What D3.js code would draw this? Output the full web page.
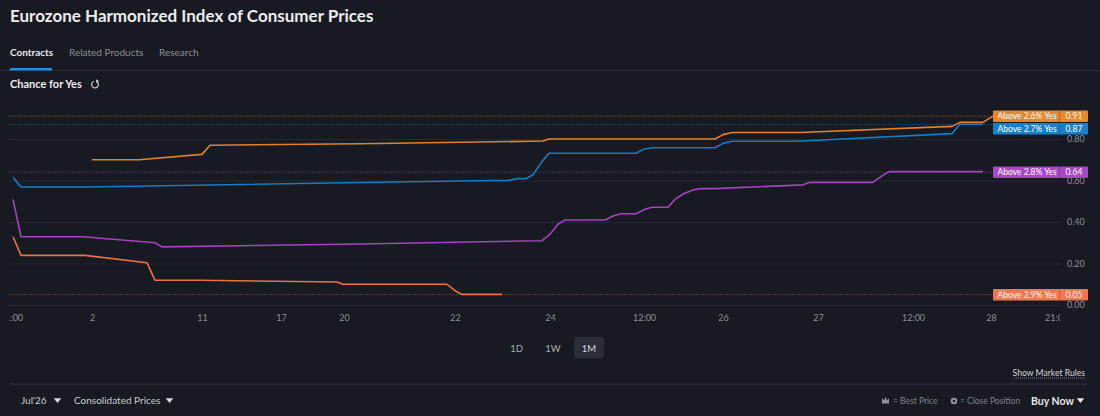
<!DOCTYPE html>
<html>
<head>
<meta charset="utf-8">
<script src="https://cdn.jsdelivr.net/npm/d3@7"></script>
<style>
  body { margin: 0; background: #171a21; }
  svg { display: block; font-family: Lato, "Open Sans", sans-serif; }
</style>
</head>
<body>
<svg id="chart" width="1100" height="416"></svg>
<script>
// contracts and their last price
var contracts = ["Above 2.6% Yes", "Above 2.7% Yes", "Above 2.8% Yes", "Above 2.9% Yes"];
var lastPrices = [0.91, 0.87, 0.64, 0.05];

// price history, time is position on the compressed timeline (0..105)
var time26 = [8.2, 12.9, 19.2, 20, 35, 53.3, 53.9, 70.5, 71.3, 72.2, 79, 94.2, 95, 97.3, 98.3];
var price26 = [0.70, 0.70, 0.726, 0.77, 0.777, 0.79, 0.80, 0.80, 0.821, 0.831, 0.831, 0.861, 0.88, 0.88, 0.91];

var time27 = [0.3, 1.1, 7.7, 35, 50, 50.7, 51.6, 52.3, 53.2, 53.9, 62.6, 63.3, 64.2, 70.5, 71.3, 72.2, 78.7, 94.2, 95, 97.3];
var price27 = [0.615, 0.569, 0.569, 0.59, 0.601, 0.609, 0.609, 0.628, 0.691, 0.731, 0.731, 0.749, 0.758, 0.758, 0.779, 0.789, 0.789, 0.826, 0.871, 0.871];

var time28 = [0.3, 1.1, 7.3, 14.5, 15.2, 35, 53.2, 54, 54.8, 55.5, 59.5, 60.3, 61.1, 62.6, 63.5, 64.2, 65.8, 66.5, 67.3, 68.3, 69, 70.5, 79.3, 80, 86.3, 87.2, 87.9, 97.3];
var price28 = [0.509, 0.329, 0.329, 0.30, 0.28, 0.294, 0.31, 0.341, 0.389, 0.41, 0.41, 0.429, 0.44, 0.44, 0.461, 0.471, 0.471, 0.509, 0.535, 0.554, 0.561, 0.561, 0.579, 0.591, 0.591, 0.622, 0.643, 0.643];

var time29 = [0.3, 1.1, 7.5, 13.7, 14.5, 19, 32.7, 33.3, 43.7, 44.5, 45.2, 49.2];
var price29 = [0.329, 0.239, 0.239, 0.204, 0.119, 0.119, 0.111, 0.10, 0.10, 0.069, 0.051, 0.051];

// axis ticks
var xTickTimes = [0.1, 8.2, 19.2, 27.1, 33.4, 44.5, 54, 63.4, 71.3, 80.8, 90.3, 98.1, 104.6];
var xTickLabels = ["21:00", "2", "11", "17", "20", "22", "24", "12:00", "26", "27", "12:00", "28", "21:00"];
var yTickValues = [0, 0.2, 0.4, 0.6, 0.8];

var tabLabels = ["Contracts", "Related Products", "Research"];
var rangeLabels = ["1D", "1W", "1M"];

var lineColors = ["#e0822b", "#157bc4", "#a443c2", "#ea7146"];
var tagColors = ["#e8872c", "#1a80cc", "#a847c8", "#f07850"];

var series = [
  { name: contracts[0], time: time26, price: price26, last: lastPrices[0] },
  { name: contracts[1], time: time27, price: price27, last: lastPrices[1] },
  { name: contracts[2], time: time28, price: price28, last: lastPrices[2] },
  { name: contracts[3], time: time29, price: price29, last: lastPrices[3] }
];

var svg = d3.select("#chart");

// ---- header ----
svg.append("text")
  .attr("x", 10).attr("y", 22)
  .attr("fill", "#ececee")
  .attr("font-size", "17px")
  .attr("font-weight", 700)
  .text("Eurozone Harmonized Index of Consumer Prices");

var tabX = [10, 69, 159];
svg.selectAll("text.tab")
  .data(tabLabels)
  .enter()
  .append("text")
    .attr("class", "tab")
    .attr("x", function(d, i) { return tabX[i]; })
    .attr("y", 56)
    .attr("font-size", "10px")
    .attr("font-weight", function(d, i) { return i === 0 ? 700 : 400; })
    .attr("fill", function(d, i) { return i === 0 ? "#e6e7ea" : "#8b8f98"; })
    .text(function(d) { return d; });

svg.append("rect")
  .attr("x", 0).attr("y", 70).attr("width", 1100).attr("height", 1)
  .attr("fill", "#2a2e37");
svg.append("rect")
  .attr("x", 10).attr("y", 68).attr("width", 42).attr("height", 2.5)
  .attr("fill", "#2b8ad8");

svg.append("text")
  .attr("x", 10).attr("y", 88)
  .attr("fill", "#ececee")
  .attr("font-size", "11px")
  .attr("font-weight", 700)
  .text("Chance for Yes");

//refresh icon
var refresh = svg.append("g").attr("transform", "translate(95, 84.5)");
refresh.append("path")
  .attr("d", d3.arc()({ innerRadius: 3.4, outerRadius: 3.4, startAngle: 0.6, endAngle: 2 * Math.PI - 0.3 }))
  .attr("fill", "none").attr("stroke", "#c9cbd0").attr("stroke-width", 1.2);
refresh.append("path")
  .attr("d", "M1,-5.2 L4,-3.4 L1.2,-1.6 Z")
  .attr("fill", "#c9cbd0");

// ---- chart ----
var plotLeft = 9, plotRight = 1060;

var xScale = d3.scaleLinear().domain([0, 105]).range([10, 1060]);
var yScale = d3.scaleLinear().domain([0, 1]).range([305, 97.5]);

svg.append("defs").append("clipPath")
  .attr("id", "plot-clip")
  .append("rect")
    .attr("x", plotLeft).attr("y", 90).attr("width", plotRight - plotLeft).attr("height", 240);

var yAxis = d3.axisRight(yScale)
  .tickValues(yTickValues)
  .tickFormat(d3.format(".2f"))
  .tickSize(-(plotRight - plotLeft))
  .tickPadding(7);

var yAxisGroup = svg.append("g")
  .attr("transform", "translate(" + plotRight + ",0)")
  .call(yAxis);
yAxisGroup.select(".domain").remove();
yAxisGroup.selectAll("line").attr("stroke", "#242833");
yAxisGroup.selectAll("text")
  .attr("fill", "#8c909a")
  .attr("font-size", "9px")
  .attr("font-family", "Lato, sans-serif");

var xAxis = d3.axisBottom(xScale)
  .tickValues(xTickTimes)
  .tickFormat(function(d, i) { return xTickLabels[i]; })
  .tickSize(0)
  .tickPadding(10);

var xAxisGroup = svg.append("g")
  .attr("clip-path", "url(#plot-clip)")
  .append("g")
    .attr("transform", "translate(0,305)")
    .call(xAxis);
xAxisGroup.select(".domain").remove();
xAxisGroup.selectAll("text")
  .attr("fill", "#8c909a")
  .attr("font-size", "9px")
  .attr("font-family", "Lato, sans-serif");

// dotted lines at the last price
svg.append("g")
  .selectAll("line")
  .data(series)
  .enter()
  .append("line")
    .attr("x1", plotLeft)
    .attr("x2", 993)
    .attr("y1", function(d) { return yScale(d.last); })
    .attr("y2", function(d) { return yScale(d.last); })
    .attr("stroke", function(d, i) { return lineColors[i]; })
    .attr("stroke-width", 1)
    .attr("stroke-dasharray", "1.5,1.5")
    .attr("opacity", 0.55);

var lineGen = d3.line()
  .x(function(p) { return xScale(p[0]); })
  .y(function(p) { return yScale(p[1]); });

svg.append("g")
  .selectAll("path")
  .data(series)
  .enter()
  .append("path")
    .attr("d", function(d) { return lineGen(d3.zip(d.time, d.price)); })
    .attr("fill", "none")
    .attr("stroke", function(d, i) { return lineColors[i]; })
    .attr("stroke-width", 1.6)
    .attr("stroke-linejoin", "round");

// price tags on the right, pushed apart when they overlap
var tagHeight = 11.5;
var tagItems = series.map(function(d, i) {
  return { name: d.name, last: d.last, color: tagColors[i], y: yScale(d.last) - tagHeight / 2 };
});
var sortedTags = tagItems.slice().sort(function(a, b) { return a.y - b.y; });
for (var i = 1; i < sortedTags.length; i++) {
  var minY = sortedTags[i - 1].y + tagHeight + 1;
  if (sortedTags[i].y < minY) {
    sortedTags[i].y = minY;
  }
}

var tags = svg.append("g")
  .selectAll("g")
  .data(tagItems)
  .enter()
  .append("g")
    .attr("transform", function(d) { return "translate(993," + d.y + ")"; });

tags.append("rect")
  .attr("width", 95).attr("height", tagHeight).attr("rx", 1)
  .attr("fill", function(d) { return d.color; });
tags.append("rect")
  .attr("x", 66).attr("width", 0.8).attr("height", tagHeight)
  .attr("fill", "#000").attr("opacity", 0.25);
tags.append("text")
  .attr("x", 4.5).attr("y", 8.7)
  .attr("fill", "#fff")
  .attr("font-size", "8.5px")
  .text(function(d) { return d.name; });
tags.append("text")
  .attr("x", 81).attr("y", 8.7)
  .attr("text-anchor", "middle")
  .attr("fill", "#fff")
  .attr("font-size", "8.5px")
  .text(function(d) { return d3.format(".2f")(d.last); });

// ---- range buttons ----
var rangeX = [516.5, 553, 589];
svg.append("rect")
  .attr("x", 574).attr("y", 337).attr("width", 30).attr("height", 21.5).attr("rx", 4)
  .attr("fill", "#2a2e37");
svg.selectAll("text.range")
  .data(rangeLabels)
  .enter()
  .append("text")
    .attr("class", "range")
    .attr("x", function(d, i) { return rangeX[i]; })
    .attr("y", 351.5)
    .attr("text-anchor", "middle")
    .attr("font-size", "9.5px")
    .attr("fill", function(d, i) { return i === 2 ? "#d4d7dd" : "#a9aeb8"; })
    .text(function(d) { return d; });

// ---- footer ----
svg.append("text")
  .attr("x", 1085).attr("y", 375.5)
  .attr("text-anchor", "end")
  .attr("font-size", "8.6px")
  .attr("fill", "#d4d6db")
  .text("Show Market Rules");
svg.append("line")
  .attr("x1", 1014).attr("x2", 1085).attr("y1", 378).attr("y2", 378)
  .attr("stroke", "#9aa0aa").attr("stroke-width", 0.8).attr("stroke-dasharray", "1,1");

svg.append("rect")
  .attr("x", 10).attr("y", 383.5).attr("width", 1077).attr("height", 1.2)
  .attr("fill", "#2e323b");

var triangle = function(cx, cy, color) {
  svg.append("path")
    .attr("d", "M" + (cx - 3.8) + "," + (cy - 2.2) + " L" + (cx + 3.8) + "," + (cy - 2.2) + " L" + cx + "," + (cy + 2.4) + " Z")
    .attr("fill", color);
};

svg.append("text")
  .attr("x", 21).attr("y", 404)
  .attr("font-size", "10px").attr("fill", "#c9ccd2")
  .text("Jul'26");
triangle(57.5, 400.5, "#d9dbe0");
svg.append("text")
  .attr("x", 74).attr("y", 404)
  .attr("font-size", "10px").attr("fill", "#c9ccd2")
  .text("Consolidated Prices");
triangle(169.5, 400.5, "#d9dbe0");

//crown icon
svg.append("path")
  .attr("d", "M882,403.5 L882,398 L884,400.5 L885.5,397 L887,400.5 L889,398 L889,403.5 Z")
  .attr("fill", "#8f949e");
svg.append("text")
  .attr("x", 893).attr("y", 404)
  .attr("font-size", "8.5px").attr("fill", "#7f848e")
  .text("= Best Price");
//close position icon
svg.append("circle")
  .attr("cx", 954).attr("cy", 401).attr("r", 3.3)
  .attr("fill", "#8f949e");
svg.append("circle")
  .attr("cx", 954).attr("cy", 401).attr("r", 1.3)
  .attr("fill", "#171a21");
svg.append("text")
  .attr("x", 960).attr("y", 404)
  .attr("font-size", "8.5px").attr("fill", "#7f848e")
  .text("= Close Position");
svg.append("text")
  .attr("x", 1031).attr("y", 404.5)
  .attr("font-size", "10.5px").attr("font-weight", 700).attr("fill", "#e6e7ea")
  .text("Buy Now");
triangle(1080.5, 400.5, "#e6e7ea");
</script>
</body>
</html>
